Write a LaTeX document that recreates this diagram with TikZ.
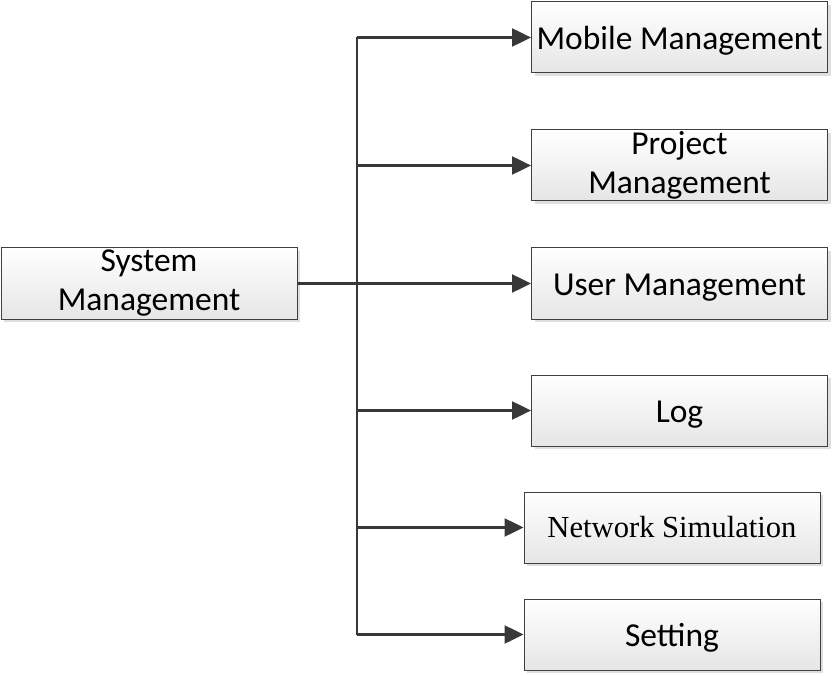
\documentclass[tikz,border=0pt]{standalone}
\usepackage{fontspec}
\setmainfont{Carlito}
\newfontfamily\netfont{Liberation Serif}
\usetikzlibrary{shadows,arrows.meta}

\begin{document}
\begin{tikzpicture}[
            x=1pt, y=-1pt,
            every node/.style={draw=black!75, line width=1pt, rectangle, align=center, inner sep=0pt,
                minimum width=296pt, minimum height=71pt, top color=white, bottom color=black!10,
                drop shadow={shadow xshift=3pt, shadow yshift=-3pt, fill=black!25},
                font=\fontsize{33.5}{39}\selectfont},
            oneline/.style={text height=31pt, text depth=6.5pt},
            wire/.style={draw=black!78, line width=2.5pt},
            link/.style={wire, -{Triangle[length=19pt,width=18pt]}}
        ]
            \useasboundingbox (0,0) rectangle (832,676);
            \node (sys) at (149,283.5) {System\\Management};
            \node [oneline] (mob) at (679.5,37.5) {Mobile Management};
            \node (proj) at (679.5,165.5) {Project\\Management};
            \node [oneline] (user) at (679.5,283.5) {User Management};
            \node [oneline] (log) at (679.5,410.5) {Log};
            \node [font=\netfont\fontsize{30.6}{36}\selectfont] (net) at (672,527.5) {Network Simulation};
            \node [oneline] (set) at (672,634.5) {Setting};
            \coordinate (bus) at (357,283.5);

            \draw [wire] (bus |- mob.west) -- (bus |- set.west);
            \draw [link] (sys.east) -- (user.west);
            \foreach \n in {mob,proj,log,net,set}
                \draw [link] (bus |- \n.west) -- (\n.west);
        \end{tikzpicture}
\end{document}
